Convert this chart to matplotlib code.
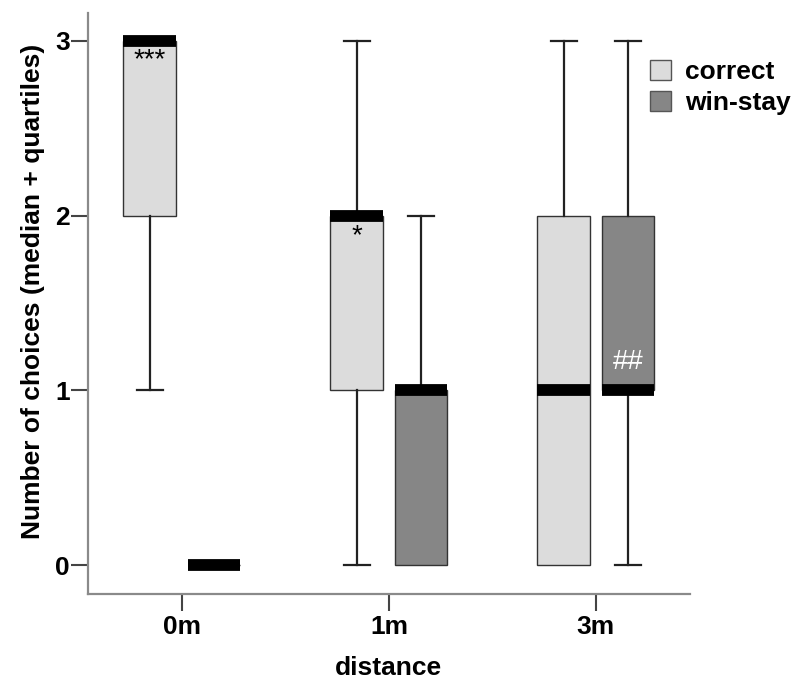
import matplotlib.pyplot as plt
import numpy as np

plt.rcParams['font.family'] = ['Liberation Sans', 'DejaVu Sans']

distances = ["0m", "1m", "3m"]
groups = ["correct", "win-stay"]
group_colors = ["#dcdcdc", "#868686"]

# per distance: [whislo, q1, med, q3, whishi]
correct_stats = [[1, 2, 3, 3, 3], [0, 1, 2, 2, 3], [0, 0, 1, 2, 3]]
winstay_stats = [[0, 0, 0, 0, 0], [0, 0, 1, 1, 2], [0, 1, 1, 2, 3]]

# significance labels: (distance index, group index, y, text, color)
marks = [(0, 0, 2.89, "***", "black"), (1, 0, 1.88, "*", "black"), (2, 1, 1.16, "##", "white")]


def make_stats(rows):
    out = []
    for lo, q1, med, q3, hi in rows:
        out.append(dict(whislo=lo, q1=q1, med=med, q3=q3, whishi=hi, fliers=[]))
    return out


fig = plt.figure(figsize=(7.94, 6.83), dpi=100)
ax = fig.add_axes([0.1108, 0.1303, 0.758, 0.8507])

x = np.arange(len(distances))
offset = 0.155
width = 0.255

for gi, (rows, color) in enumerate(zip([correct_stats, winstay_stats], group_colors)):
    pos = x + (offset if gi else -offset)
    res = ax.bxp(make_stats(rows), positions=pos, widths=width, patch_artist=True,
                 showfliers=False, capwidths=width / 2,
                 boxprops=dict(facecolor=color, edgecolor="#333333", linewidth=1),
                 whiskerprops=dict(color="#222222", linewidth=1.6),
                 capprops=dict(color="#222222", linewidth=1.6),
                 medianprops=dict(color="black", linewidth=8.5, solid_capstyle="butt"))
    # hide caps that sit on the box edge (no whisker there)
    for i, r in enumerate(rows):
        lo_cap, hi_cap = res["caps"][2 * i], res["caps"][2 * i + 1]
        if r[0] == r[1]:
            lo_cap.set_visible(False)
        if r[4] == r[3]:
            hi_cap.set_visible(False)

for di, gi, y, txt, col in marks:
    xp = x[di] + (offset if gi else -offset)
    ax.text(xp, y, txt, ha="center", va="center", fontsize=20, color=col)

for g, c in zip(groups, group_colors):
    ax.bar([np.nan], [np.nan], color=c, edgecolor="#555555", label=g)
leg = fig.legend(loc="upper left", bbox_to_anchor=(0.819, 0.912), frameon=False,
                 handlelength=0.78, handleheight=0.78, handletextpad=0.55,
                 labelspacing=0.25, borderaxespad=0, borderpad=0,
                 prop=dict(weight="bold", size=19))

ax.set_xlim(-0.454, 2.454)
ax.set_ylim(-0.166, 3.16)
ax.set_xticks(x)
ax.set_xticklabels(distances)
ax.set_yticks([0, 1, 2, 3])
ax.set_xlabel("distance", fontsize=19, fontweight="bold", labelpad=12)
ax.set_ylabel("Number of choices (median + quartiles)", fontsize=19, fontweight="bold")
ax.yaxis.set_label_coords(-0.072, 0.52)
for lbl in ax.get_xticklabels() + ax.get_yticklabels():
    lbl.set_fontweight("bold")
    lbl.set_fontsize(19)
ax.tick_params(axis="x", length=12, width=1.5, color="#444444", pad=3)
ax.tick_params(axis="y", length=12, width=1.5, color="#444444", pad=1)
ax.spines["top"].set_visible(False)
ax.spines["right"].set_visible(False)
for s in ["left", "bottom"]:
    ax.spines[s].set_color("#8a8a8a")
    ax.spines[s].set_linewidth(1.6)

fig.savefig("out.png", dpi=100)
